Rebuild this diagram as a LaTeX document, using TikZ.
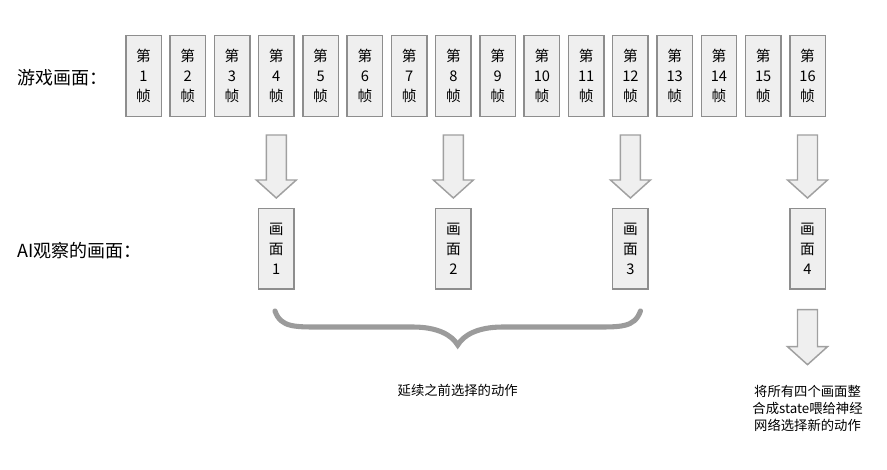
\documentclass[tikz,border=0pt]{standalone}
\usepackage{fontspec}
\setmainfont{Noto Sans CJK SC}
\usetikzlibrary{positioning,calc}

\definecolor{boxfill}{HTML}{EFEFEF}
\definecolor{boxline}{HTML}{8E8E8E}
\definecolor{arrowline}{HTML}{A0A0A0}
\definecolor{bracegray}{HTML}{9B9B9B}

\tikzset{
  frame/.style={draw=boxline, fill=boxfill, line width=1.1pt,
    minimum width=26.6pt, minimum height=60.4pt, inner sep=0pt,
    align=center, font=\fontsize{11}{15}\selectfont},
  shot/.style={frame},
  rowlabel/.style={anchor=west, font=\fontsize{13.5}{16}\selectfont},
  note/.style={align=center, font=\fontsize{10}{13}\selectfont},
  pics/downarrow/.style={code={
    \draw[draw=arrowline, fill=boxfill, line width=1.1pt, line join=miter]
      (-10,0) -- (-10,#1-18) -- (-20,#1-18) -- (0,#1) -- (20,#1-18)
      -- (10,#1-18) -- (10,0) -- cycle;}}
}

\begin{document}
\begin{tikzpicture}[x=0.75pt, y=-0.75pt]
  \useasboundingbox (0,0) rectangle (887,470);

  % row of game frames
  \node [frame] (f1) at (143.5,76) {第\\1\\帧};
  \foreach \i in {2,...,16} {
    \pgfmathtruncatemacro{\prev}{\i-1}
    \node [frame] (f\i) [right=5.5pt of f\prev] {第\\\i\\帧};
  }
  \node [rowlabel] (gamelabel) at (13,78) {游戏画面：};

  % frames seen by the AI
  \node [shot] (s1) [below=68pt of f4] {画\\面\\1};
  \node [shot] (s2) [below=68pt of f8] {画\\面\\2};
  \node [shot] (s3) [below=68pt of f12] {画\\面\\3};
  \node [shot] (s4) [below=68pt of f16] {画\\面\\4};
  \node [rowlabel] (ailabel) at (13,251) {AI观察的画面：};

  \foreach \n in {4,8,12,16}
    \pic at ([yshift=-13.5pt]f\n.south) {downarrow=63};

  % brace under the first three shots
  \coordinate (bl) at ([xshift=-1pt,yshift=-16pt]s1.south);
  \coordinate (br) at ([xshift=7.5pt,yshift=-16pt]s3.south);
  \coordinate (tip) at ($(bl)!0.5!(br)+(0,34)$);
  \draw[bracegray, line width=3.8pt, line cap=round]
    (bl) .. controls +(6,17) and +(-30,0) .. ++(50,16)
    -- ($(tip)+(-45,-18)$) .. controls +(25,0) and +(-6,-10) .. (tip)
    .. controls +(6,-10) and +(-25,0) .. ($(tip)+(45,-18)$)
    -- ($(br)+(-50,16)$) .. controls +(30,0) and +(-6,17) .. (br);
  \node [note] (keep) at ($(tip)+(0,45)$) {延续之前选择的动作};

  % last shot goes to the network
  \pic at ([yshift=-15pt]s4.south) {downarrow=55};
  \node [note, anchor=north] (feed) at ([yshift=-68pt]s4.south)
    {将所有四个画面整\\合成state喂给神经\\网络选择新的动作};
\end{tikzpicture}
\end{document}
